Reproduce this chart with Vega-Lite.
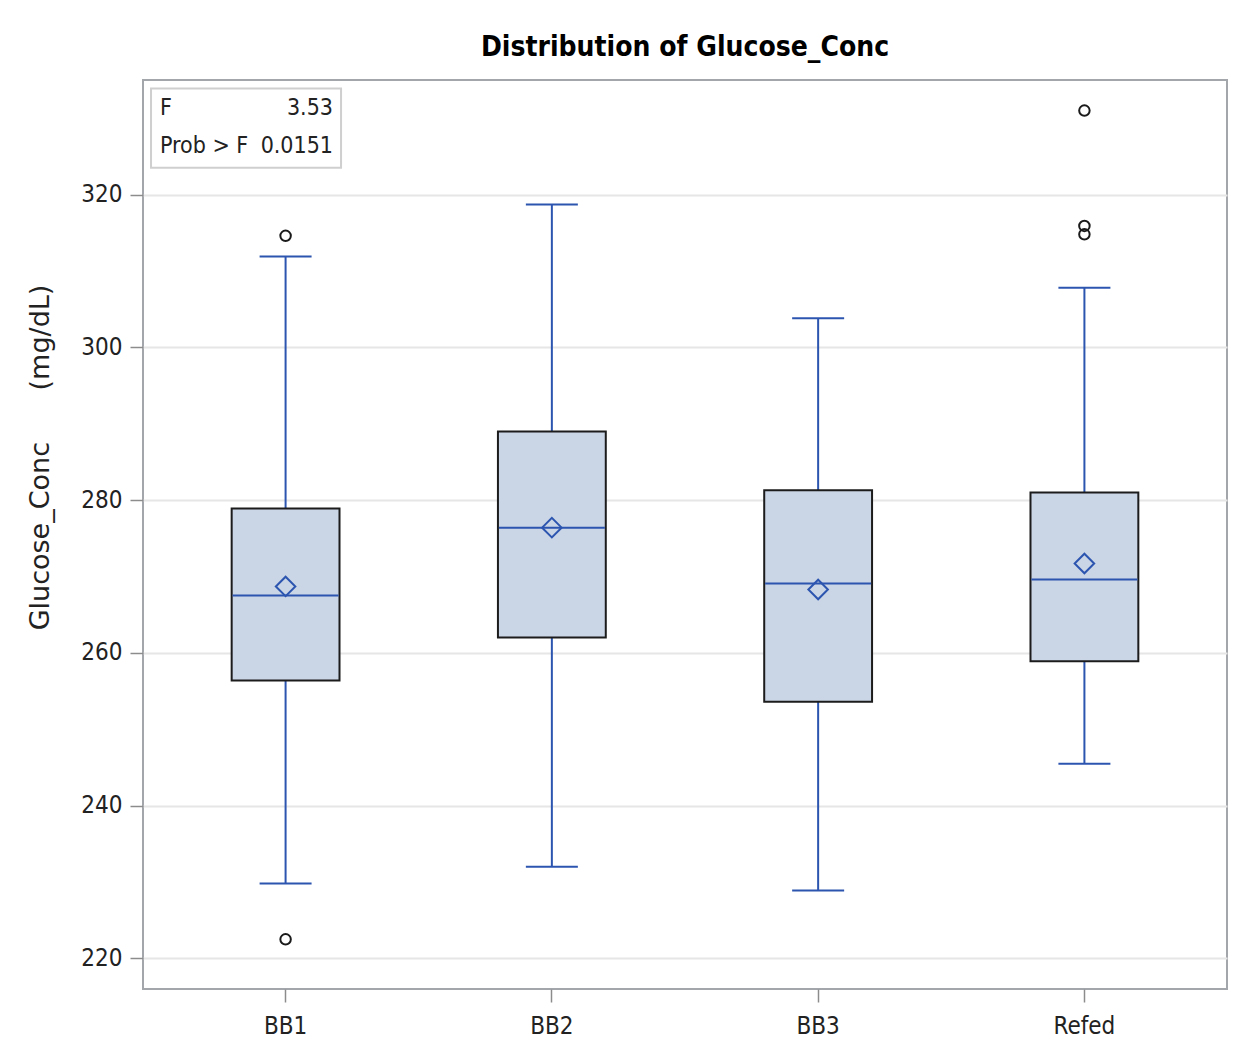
{
  "$schema": "https://vega.github.io/schema/vega-lite/v6.json",
  "autosize": "none",
  "width": 1084,
  "height": 909,
  "padding": {"left": 143, "top": 80, "right": 20, "bottom": 64},
  "background": "white",
  "title": {
    "text": "Distribution of Glucose_Conc",
    "font": "DejaVu Sans Condensed",
    "fontSize": 28,
    "fontWeight": "bold",
    "color": "#000000",
    "anchor": "middle",
    "offset": 18
  },
  "datasets": {
    "boxes": [
      {"group": "BB1", "lower": 229.8, "q1": 256.4, "median": 267.5, "q3": 278.9, "upper": 311.9, "mean": 268.7},
      {"group": "BB2", "lower": 232.0, "q1": 262.0, "median": 276.4, "q3": 289.0, "upper": 318.7, "mean": 276.4},
      {"group": "BB3", "lower": 228.9, "q1": 253.6, "median": 269.1, "q3": 281.3, "upper": 303.8, "mean": 268.3},
      {"group": "Refed", "lower": 245.5, "q1": 258.9, "median": 269.6, "q3": 281.0, "upper": 307.8, "mean": 271.7}
    ],
    "outliers": [
      {"group": "BB1", "value": 314.6},
      {"group": "BB1", "value": 222.5},
      {"group": "Refed", "value": 331.0},
      {"group": "Refed", "value": 315.9},
      {"group": "Refed", "value": 314.8}
    ],
    "stats": [
      {"label": "F", "stat": "3.53", "row": 331.3},
      {"label": "Prob > F", "stat": "0.0151", "row": 326.3}
    ]
  },
  "config": {
    "view": {"stroke": "#a3a7ab", "strokeWidth": 2},
    "axis": {
      "labelFont": "DejaVu Sans Condensed",
      "labelFontSize": 24,
      "labelColor": "#222222",
      "tickColor": "#8c8c8c",
      "tickWidth": 1.5,
      "tickSize": 13,
      "domain": false
    }
  },
  "layer": [
    {
      "layer": [
        {
          "data": {"name": "boxes"},
          "mark": {"type": "rule", "color": "#2c55b0", "strokeWidth": 2},
          "encoding": {
            "x": {
              "field": "group",
              "type": "nominal",
              "sort": ["BB1", "BB2", "BB3", "Refed"],
              "scale": {"paddingInner": 0.595, "paddingOuter": 0.333},
              "axis": {"title": null, "labelAngle": 0, "labelPadding": 12, "grid": false}
            },
            "y": {
              "field": "lower",
              "type": "quantitative",
              "scale": {"domain": [216, 335], "nice": false, "zero": false},
              "axis": {
                "title": "Glucose_Conc\u00a0\u00a0\u00a0\u00a0\u00a0\u00a0(mg/dL)",
                "titleFont": "DejaVu Sans",
                "titleFontSize": 27,
                "titleFontWeight": "normal",
                "titleColor": "#222222",
                "titleY": 377,
                "titleX": -89,
                "values": [220, 240, 260, 280, 300, 320],
                "labelPadding": 8,
                "grid": true,
                "gridColor": "#e6e6e6",
                "gridWidth": 2
              }
            },
            "y2": {"field": "upper"}
          }
        },
        {
          "data": {"name": "boxes"},
          "mark": {"type": "tick", "color": "#2c55b0", "thickness": 2, "size": 52, "orient": "horizontal", "opacity": 1},
          "encoding": {
            "x": {"field": "group", "type": "nominal", "sort": ["BB1", "BB2", "BB3", "Refed"]},
            "y": {"field": "lower", "type": "quantitative"}
          }
        },
        {
          "data": {"name": "boxes"},
          "mark": {"type": "tick", "color": "#2c55b0", "thickness": 2, "size": 52, "orient": "horizontal", "opacity": 1},
          "encoding": {
            "x": {"field": "group", "type": "nominal", "sort": ["BB1", "BB2", "BB3", "Refed"]},
            "y": {"field": "upper", "type": "quantitative"}
          }
        },
        {
          "data": {"name": "boxes"},
          "mark": {"type": "bar", "fill": "#cad5e5", "stroke": "#1c1c1c", "strokeWidth": 2},
          "encoding": {
            "x": {"field": "group", "type": "nominal", "sort": ["BB1", "BB2", "BB3", "Refed"]},
            "y": {"field": "q1", "type": "quantitative"},
            "y2": {"field": "q3"}
          }
        },
        {
          "data": {"name": "boxes"},
          "mark": {"type": "tick", "color": "#2c55b0", "thickness": 2, "size": 106, "orient": "horizontal", "opacity": 1},
          "encoding": {
            "x": {"field": "group", "type": "nominal", "sort": ["BB1", "BB2", "BB3", "Refed"]},
            "y": {"field": "median", "type": "quantitative"}
          }
        },
        {
          "data": {"name": "boxes"},
          "mark": {"type": "point", "shape": "diamond", "filled": false, "color": "#2c55b0", "strokeWidth": 2, "size": 380, "opacity": 1},
          "encoding": {
            "x": {"field": "group", "type": "nominal", "sort": ["BB1", "BB2", "BB3", "Refed"]},
            "y": {"field": "mean", "type": "quantitative"}
          }
        },
        {
          "data": {"name": "outliers"},
          "mark": {"type": "point", "shape": "circle", "filled": false, "color": "#1a1a1a", "strokeWidth": 2, "size": 110, "opacity": 1},
          "encoding": {
            "x": {"field": "group", "type": "nominal", "sort": ["BB1", "BB2", "BB3", "Refed"]},
            "y": {"field": "value", "type": "quantitative"}
          }
        }
      ]
    },
    {
      "data": {"values": [{"x0": 0.0074, "x1": 0.1827, "y0": 323.5, "y1": 333.9}]},
      "mark": {"type": "rect", "fill": "white", "stroke": "#cfcfcf", "strokeWidth": 2},
      "encoding": {
        "x": {"field": "x0", "type": "quantitative", "scale": {"domain": [0, 1]}, "axis": null},
        "x2": {"field": "x1"},
        "y": {"field": "y0", "type": "quantitative"},
        "y2": {"field": "y1"}
      }
    },
    {
      "data": {"name": "stats"},
      "mark": {"type": "text", "align": "left", "baseline": "middle", "font": "DejaVu Sans Condensed", "fontSize": 23, "color": "#222222"},
      "encoding": {
        "x": {"datum": 0.0157, "type": "quantitative", "scale": {"domain": [0, 1]}, "axis": null},
        "y": {"field": "row", "type": "quantitative"},
        "text": {"field": "label"}
      }
    },
    {
      "data": {"name": "stats"},
      "mark": {"type": "text", "align": "right", "baseline": "middle", "font": "DejaVu Sans Condensed", "fontSize": 23, "color": "#222222"},
      "encoding": {
        "x": {"datum": 0.1753, "type": "quantitative", "scale": {"domain": [0, 1]}, "axis": null},
        "y": {"field": "row", "type": "quantitative"},
        "text": {"field": "stat"}
      }
    }
  ],
  "resolve": {"scale": {"x": "independent"}}
}
